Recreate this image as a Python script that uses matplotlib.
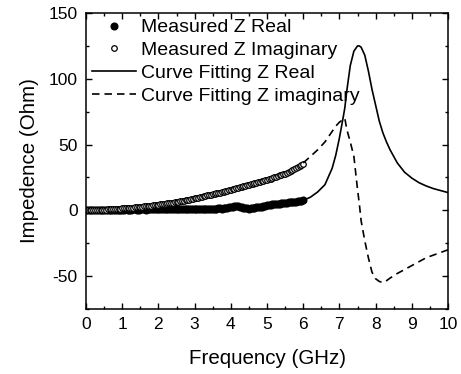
import numpy as np
import matplotlib
matplotlib.use('Agg')
import matplotlib.pyplot as plt

plt.rcParams['font.family'] = ['Liberation Sans', 'DejaVu Sans']
plt.rcParams['axes.unicode_minus'] = False

# measured data, 0 - 6 GHz, step 0.05 GHz
meas_freq = np.linspace(0, 6, 121)
meas_real = [0.2, 0.0, 0.1, 0.3, 0.2, 0.0, 0.1, 0.2, 0.4, 0.3, 0.1, 0.2, 0.4, 0.5, 0.3, 0.2, 0.4, 0.6, 0.5, 0.3,
             0.4, 0.6, 0.7, 0.5, 0.4, 0.6, 0.8, 0.7, 0.5, 0.6, 0.8, 0.9, 0.7, 0.6, 0.8, 1.0, 0.9, 0.7, 0.8, 1.0,
             1.1, 0.9, 0.8, 1.0, 1.1, 0.9, 0.8, 0.9, 1.1, 1.0, 0.8, 0.9, 1.0, 1.2, 1.0, 0.9, 1.1, 1.2, 1.0, 0.9,
             1.0, 1.2, 1.1, 1.0, 1.2, 1.3, 1.1, 1.0, 1.2, 1.3, 1.2, 1.1, 1.3, 1.5, 1.4, 1.3, 1.5, 1.8, 2.0, 2.3,
             2.5, 2.8, 3.0, 3.1, 3.0, 2.7, 2.3, 1.9, 1.6, 1.4, 1.3, 1.4, 1.6, 1.9, 2.2, 2.4, 2.6, 2.9, 3.2, 3.5,
             3.8, 4.1, 4.4, 4.6, 4.8, 4.9, 4.9, 5.0, 5.2, 5.4, 5.6, 5.8, 6.0, 6.2, 6.3, 6.5, 6.7, 6.9, 7.1, 7.3,
             7.6]
meas_imag = [0.0, 0.1, 0.1, 0.2, 0.2, 0.3, 0.3, 0.4, 0.4, 0.5, 0.5, 0.6, 0.7, 0.7, 0.8, 0.9, 1.0, 1.1, 1.2, 1.3,
             1.4, 1.5, 1.6, 1.8, 1.9, 2.0, 2.1, 2.3, 2.4, 2.6, 2.7, 2.9, 3.0, 3.2, 3.3, 3.5, 3.6, 3.8, 4.0, 4.1,
             4.3, 4.5, 4.6, 4.8, 5.0, 5.2, 5.4, 5.7, 5.9, 6.1, 6.4, 6.6, 6.9, 7.1, 7.4, 7.6, 7.9, 8.2, 8.4, 8.7,
             9.0, 9.3, 9.6, 9.9, 10.3, 10.6, 10.9, 11.3, 11.7, 12.0, 12.4, 12.7, 13.0, 13.3, 13.5, 13.8, 14.1, 14.5, 14.9, 15.3,
             15.7, 16.1, 16.5, 16.9, 17.3, 17.6, 17.9, 18.3, 18.7, 19.1, 19.5, 19.8, 20.1, 20.5, 20.9, 21.3, 21.7, 22.1, 22.5, 22.9,
             23.3, 23.7, 24.1, 24.5, 25.0, 25.5, 26.0, 26.5, 27.0, 27.5, 28.0, 28.6, 29.2, 29.8, 30.5, 31.2, 32.0, 32.8, 33.6, 34.5,
             35.5]

# curve fitting
fit_freq = [6.0, 6.2, 6.4, 6.6, 6.8, 6.9, 7.0, 7.1, 7.15, 7.2, 7.3, 7.4, 7.5, 7.55, 7.6, 7.7, 7.8, 7.9,
            8.0, 8.1, 8.2, 8.3, 8.4, 8.6, 8.8, 9.0, 9.2, 9.4, 9.6, 9.8, 10.0]
fit_real = [7.6, 10.0, 14.0, 19.5, 32.0, 42.0, 55.0, 70.0, 78.0, 90.0, 110.0, 121.0, 125.0, 125.0, 124.0, 118.0, 106.0, 92.0,
            80.0, 68.0, 59.0, 52.0, 46.0, 36.0, 29.0, 24.5, 21.0, 18.5, 16.5, 15.0, 13.5]
fit_imag = [36.0, 41.0, 46.0, 52.0, 60.0, 64.0, 67.0, 69.0, 70.0, 62.0, 52.0, 41.0, 16.0, 5.0, -8.0, -23.0, -36.0, -47.0,
            -52.0, -54.0, -55.0, -53.5, -51.5, -48.0, -45.0, -42.0, -39.0, -36.0, -34.0, -32.0, -30.0]

fig = plt.figure(figsize=(4.61, 3.74), dpi=100)
ax = fig.add_axes([0.1866, 0.1738, 0.7852, 0.7914])

ax.plot(meas_freq, meas_real, 'o', color='black', markersize=4.8, label='Measured Z Real')
ax.plot(meas_freq, meas_imag, 'o', mfc='white', mec='black', mew=0.9, markersize=4.0, label='Measured Z Imaginary')
ax.plot(fit_freq, fit_real, '-', color='black', lw=1.2, label='Curve Fitting Z Real')
ax.plot(fit_freq, fit_imag, color='black', lw=1.2, linestyle=(0, (4.5, 3)), label='Curve Fitting Z imaginary')

ax.set_xlim(0, 10)
ax.set_ylim(-75, 150)
ax.set_xticks(range(0, 11))
ax.set_xticks(np.arange(0.5, 10, 1), minor=True)
ax.set_yticks([-50, 0, 50, 100, 150])
ax.set_yticks([-75, -25, 25, 75, 125], minor=True)
ax.tick_params(which='both', direction='in', top=True, right=True, labelsize=12.5, width=1)
ax.tick_params(which='major', length=4, pad=6)
ax.tick_params(which='minor', length=2.2)
for s in ax.spines.values():
    s.set_linewidth(1.1)

ax.set_xlabel('Frequency (GHz)', fontsize=14.8, labelpad=12)
ax.set_ylabel('Impedence (Ohm)', fontsize=14.8, labelpad=7)

ax.legend(loc='upper left', bbox_to_anchor=(-0.017, 1.02), frameon=False, fontsize=14,
          handlelength=2.3, handletextpad=0.26, labelspacing=0.27, borderaxespad=0.2)

plt.savefig('out.png', dpi=100)
